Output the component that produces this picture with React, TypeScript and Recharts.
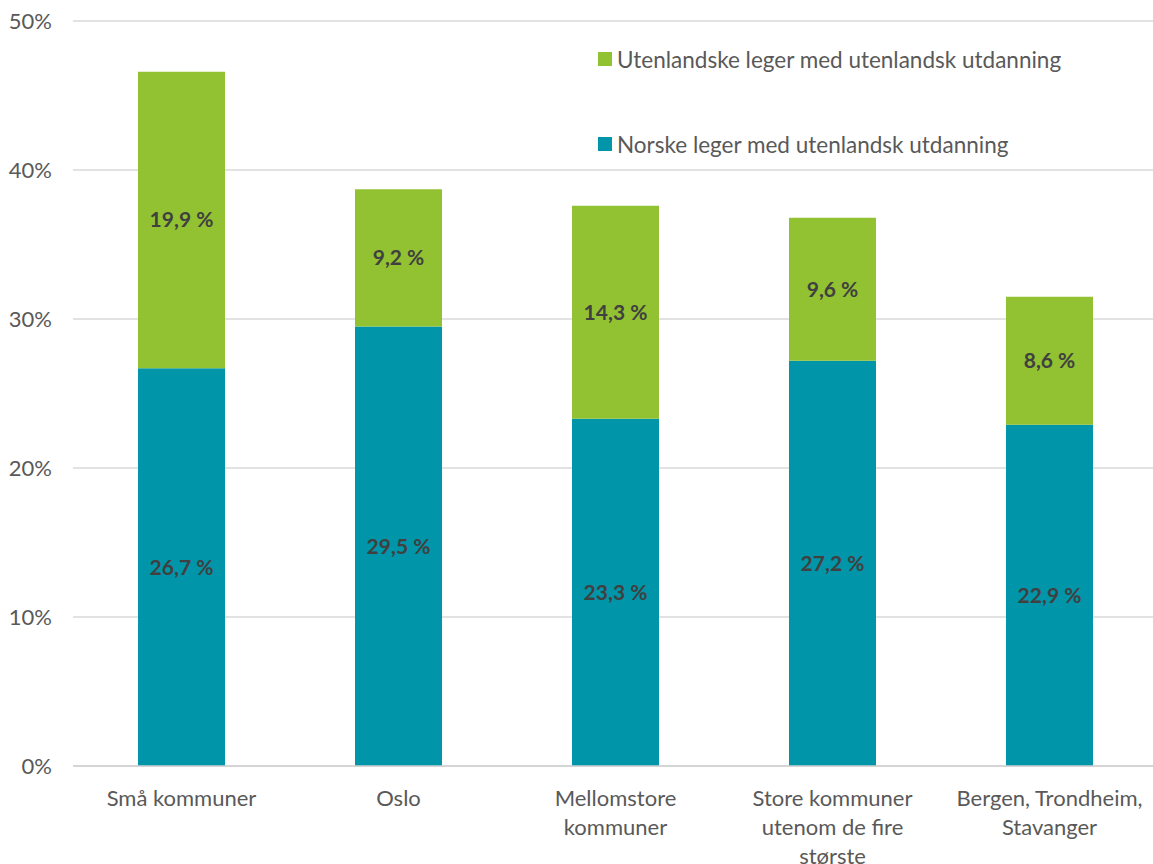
import { BarChart, Bar, XAxis, YAxis, CartesianGrid, LabelList } from 'recharts'

// Verdier lest av figuren (prosent)
const categories = [
  'Små kommuner',
  'Oslo',
  'Mellomstore\nkommuner',
  'Store kommuner\nutenom de fire\nstørste',
  'Bergen, Trondheim,\nStavanger',
]
const norske = [26.7, 29.5, 23.3, 27.2, 22.9]
const utenlandske = [19.9, 9.2, 14.3, 9.6, 8.6]
const yTicks = [0, 10, 20, 30, 40, 50]

const TEAL = '#0095A9'
const GREEN = '#92C232'
const FONT = 'Lato, "Open Sans", sans-serif'

const data = categories.map((name, i) => ({
  name,
  norske: norske[i],
  utenlandske: utenlandske[i],
}))

const fmt = (v: any) => `${String(v).replace('.', ',')} %`

function CategoryTick(props: any) {
  const { x, y, payload } = props
  const lines = String(payload.value).split('\n')
  return (
    <g transform={`translate(${x},${y})`}>
      {lines.map((line: string, i: number) => (
        <text
          key={i}
          x={0}
          y={i * 29}
          dy={32}
          textAnchor="middle"
          fill="#595959"
          fontSize={22}
          fontFamily={FONT}
        >
          {line}
        </text>
      ))}
    </g>
  )
}

function LegendBox() {
  const items = [
    { label: 'Utenlandske leger med utenlandsk utdanning', color: GREEN },
    { label: 'Norske leger med utenlandsk utdanning', color: TEAL },
  ]
  return (
    <div style={{ position: 'absolute', left: 598, top: 45, fontFamily: FONT, fontSize: 22.5, color: '#595959' }}>
      {items.map((it, i) => (
        <div key={i} style={{ display: 'flex', alignItems: 'center', height: 28, marginBottom: i === 0 ? 57 : 0 }}>
          <span style={{ width: 14, height: 14, background: it.color, display: 'inline-block', marginRight: 5 }} />
          <span>{it.label}</span>
        </div>
      ))}
    </div>
  )
}

export default function App() {
  return (
    <div style={{ position: 'absolute', left: 0, top: 0, width: 1153, height: 864, overflow: 'hidden', background: '#fff' }}>
      <BarChart
        width={1160}
        height={864}
        data={data}
        margin={{ top: 21, right: 2, bottom: 0, left: 0 }}
      >
        <CartesianGrid vertical={false} stroke="#D9D9D9" strokeWidth={1.5} />
        <XAxis
          dataKey="name"
          height={98}
          interval={0}
          tickLine={false}
          axisLine={{ stroke: '#D0D0D0', strokeWidth: 1.5 }}
          tick={<CategoryTick />}
        />
        <YAxis
          width={73}
          domain={[0, 50]}
          ticks={yTicks}
          tickFormatter={(v) => `${v}%`}
          axisLine={false}
          tickLine={false}
          tickSize={0}
          tickMargin={21}
          tick={{ fill: '#595959', fontSize: 22, fontFamily: FONT }}
        />
        <Bar dataKey="norske" stackId="a" fill={TEAL} barSize={87} isAnimationActive={false}>
          <LabelList
            dataKey="norske"
            position="center"
            formatter={fmt}
            fill="#404040"
            fontSize={21}
            fontWeight={700}
            fontFamily={FONT}
          />
        </Bar>
        <Bar dataKey="utenlandske" stackId="a" fill={GREEN} barSize={87} isAnimationActive={false}>
          <LabelList
            dataKey="utenlandske"
            position="center"
            formatter={fmt}
            fill="#404040"
            fontSize={21}
            fontWeight={700}
            fontFamily={FONT}
          />
        </Bar>
      </BarChart>
      <LegendBox />
    </div>
  )
}
